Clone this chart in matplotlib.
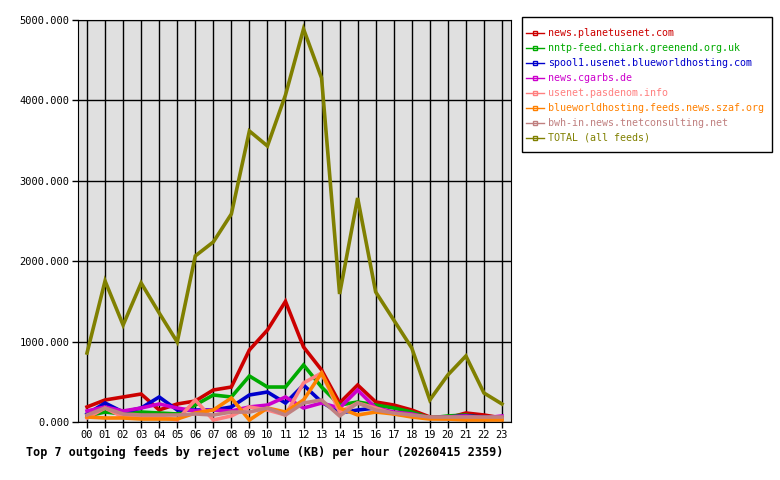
import matplotlib
matplotlib.use("Agg")
import matplotlib.pyplot as plt
from matplotlib.patches import Rectangle
import numpy as np

hours = ["%02d" % h for h in range(24)]

feeds = [
    "news.planetusenet.com",
    "nntp-feed.chiark.greenend.org.uk",
    "spool1.usenet.blueworldhosting.com",
    "news.cgarbs.de",
    "usenet.pasdenom.info",
    "blueworldhosting.feeds.news.szaf.org",
    "bwh-in.news.tnetconsulting.net",
    "TOTAL (all feeds)",
]
colors = ["#cc0000", "#00aa00", "#0000cc", "#cc00cc", "#ff8080", "#ff8000", "#c08080", "#808000"]

planetusenet = [187, 274, 311, 348, 150, 224, 261, 398, 435, 896, 1144, 1500,
                933, 647, 236, 460, 249, 211, 149, 62, 50, 112, 87, 50]
chiark = [75, 124, 100, 124, 112, 100, 211, 336, 311, 572, 435, 435,
          709, 435, 211, 249, 211, 174, 124, 50, 75, 87, 50, 50]
spool1 = [100, 236, 124, 174, 311, 149, 149, 149, 187, 336, 373, 236,
          460, 249, 112, 149, 174, 112, 87, 50, 62, 75, 62, 50]
cgarbs = [137, 187, 137, 174, 224, 174, 137, 149, 137, 187, 211, 311,
          174, 236, 174, 398, 174, 124, 100, 50, 62, 75, 50, 75]
pasdenom = [50, 174, 62, 50, 62, 25, 274, 25, 75, 187, 149, 87,
            485, 609, 124, 236, 174, 100, 75, 50, 37, 37, 37, 37]
szaf = [62, 50, 50, 37, 37, 37, 112, 149, 298, 25, 174, 124,
        274, 609, 174, 87, 124, 100, 62, 37, 37, 25, 25, 25]
tnet = [87, 174, 100, 87, 87, 87, 100, 87, 124, 124, 174, 87,
        236, 274, 75, 236, 149, 112, 87, 62, 62, 62, 62, 62]
total = [858, 1754, 1206, 1729, 1356, 995, 2065, 2239, 2587, 3619, 3433, 4067,
         4888, 4279, 1592, 2786, 1617, 1269, 920, 274, 585, 821, 361, 224]

series = [planetusenet, chiark, spool1, cgarbs, pasdenom, szaf, tnet, total]

plt.rcParams["font.family"] = ["DejaVu Sans Mono"]

fig = plt.figure(figsize=(7.8, 4.8), dpi=100)
ax = fig.add_axes([78 / 780, 1 - 422 / 480, 433 / 780, 402 / 480])
ax.set_facecolor("#e0e0e0")

x = np.arange(len(hours))
handles = []
for vals, col, name in zip(series, colors, feeds):
    ax.plot(x, vals, color=col, lw=2.6, solid_joinstyle="miter")
    h, = plt.plot([], [], color=col, lw=1, marker="s", ms=3, mfc="none", mec=col, label=name)
    handles.append(h)

ax.set_xlim(-0.5, 23.5)
ax.set_ylim(0, 5000)
ax.set_xticks(x)
ax.set_xticklabels(hours, fontsize=7.5)
ax.set_yticks(range(0, 5001, 1000))
ax.set_yticklabels(["%d.000" % v for v in range(0, 5001, 1000)], fontsize=7.5)
ax.tick_params(direction="out", length=4, width=1, pad=2)
ax.grid(True, color="black", lw=1)
ax.set_axisbelow(True)
for s in ax.spines.values():
    s.set_color("black")

fig.text(265 / 780, 1 - 452 / 480, "Top 7 outgoing feeds by reject volume (KB) per hour (20260415 2359)",
         ha="center", va="center", fontsize=8.5, fontweight="bold")

# legend box drawn separately so the padding matches the original
fig.patches.append(Rectangle((522 / 780, 1 - 152 / 480), 250 / 780, 135 / 480,
                             transform=fig.transFigure, fill=False, ec="black", lw=1))
leg = fig.legend(handles=handles, loc="upper left", bbox_to_anchor=(526 / 780, 1 - 28 / 480),
                 fontsize=7.2, frameon=False, handlelength=1.8, handletextpad=0.4,
                 labelspacing=0.5, borderpad=0, borderaxespad=0)
for txt, col in zip(leg.get_texts(), colors):
    txt.set_color(col)

fig.savefig("out.png", dpi=100)
